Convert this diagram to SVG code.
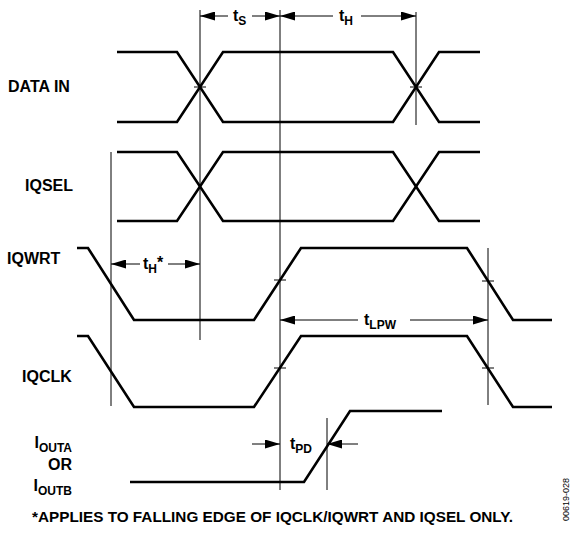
<svg xmlns="http://www.w3.org/2000/svg" width="576" height="540" viewBox="0 0 576 540">
<style>
.sig{fill:none;stroke:#000;stroke-width:2.6;stroke-linejoin:miter}
.ref{fill:none;stroke:#000;stroke-width:1}
.arr{fill:none;stroke:#000;stroke-width:1;marker-end:url(#ah)}
.lbl{font-family:"Liberation Sans",Arial,sans-serif;font-weight:bold;font-size:16px;fill:#000}
.sub{font-size:12px}
.foot{font-size:15.3px}
.code{font-family:"Liberation Sans",Arial,sans-serif;font-size:9px;fill:#000}
</style>
<defs>
<marker id="ah" markerWidth="15" markerHeight="9" refX="15" refY="4.5" orient="auto" markerUnits="userSpaceOnUse">
<path d="M0,0 L15,4.5 L0,9 z" fill="#000"/>
</marker>
</defs>
<rect width="576" height="540" fill="#fff"/>
<g id="datain">
<path class="sig" d="M117,52 H177 L223,122 H393 L439,52 H480"/>
<path class="sig" d="M117,122 H177 L223,52 H393 L439,122 H480"/>
<text class="lbl" x="8" y="92">DATA IN</text>
</g>
<g id="iqsel">
<path class="sig" d="M117,152 H177 L223,221 H393 L439,152 H480"/>
<path class="sig" d="M117,221 H177 L223,152 H393 L439,221 H480"/>
<text class="lbl" x="25" y="191">IQSEL</text>
</g>
<g id="iqwrt">
<path class="sig" d="M77,248 H88 L134,320 H254 L301,248 H467 L513,320 H552"/>
<text class="lbl" x="7" y="264">IQWRT</text>
</g>
<g id="iqclk">
<path class="sig" d="M77,336 H88 L134,407 H254 L301,336 H467 L513,407 H552"/>
<text class="lbl" x="22" y="382">IQCLK</text>
</g>
<g id="iout">
<path class="sig" d="M130,482 H304 L350,411 H442"/>
<text class="lbl" x="72" y="448" text-anchor="end">I<tspan class="sub" dy="4">OUTA</tspan></text>
<text class="lbl" x="72" y="470" text-anchor="end">OR</text>
<text class="lbl" x="72" y="491" text-anchor="end">I<tspan class="sub" dy="4">OUTB</tspan></text>
</g>
<g id="connectors">
<path class="ref" d="M200,10 V340 M280,10 V490 M416,12 V125 M111,152 V406 M488,248 V405 M327,418 V490"/>
<path class="ref" d="M194,87 H206 M410,87 H422 M274,280 H286 M482,281 H494 M274,368 H286 M482,368 H494"/>
<path class="arr" d="M228,16 H200"/>
<path class="arr" d="M252,16 H280"/>
<path class="arr" d="M333,16 H280"/>
<path class="arr" d="M361,16 H416"/>
<path class="arr" d="M140,264 H111"/>
<path class="arr" d="M168,264 H200"/>
<path class="arr" d="M358,320 H280"/>
<path class="arr" d="M410,320 H488"/>
<path class="arr" d="M252,444 H280"/>
<path class="arr" d="M358,444 H327"/>
</g>
<g id="timing-labels">
<text class="lbl" x="233" y="21">t<tspan class="sub" dy="4">S</tspan></text>
<text class="lbl" x="339" y="21">t<tspan class="sub" dy="4">H</tspan></text>
<text class="lbl" x="143" y="269">t<tspan class="sub" dy="4">H</tspan><tspan dy="-5">*</tspan></text>
<text class="lbl" x="364" y="325">t<tspan class="sub" dy="4">LPW</tspan></text>
<text class="lbl" x="290" y="449">t<tspan class="sub" dy="4">PD</tspan></text>
</g>
<text class="lbl foot" x="32" y="522">*APPLIES TO FALLING EDGE OF IQCLK/IQWRT AND IQSEL ONLY.</text>
<text class="code" transform="translate(569,521) rotate(-90)">00619-028</text>
</svg>
